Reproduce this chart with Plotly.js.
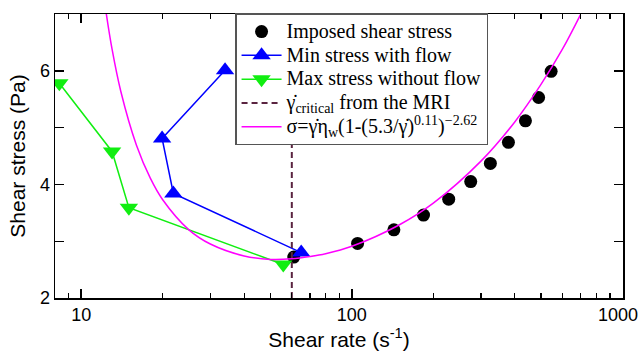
<!DOCTYPE html>
<html>
<head>
<meta charset="utf-8">
<script src="https://cdn.plot.ly/plotly-3.0.1.min.js"></script>
<style>html,body{margin:0;padding:0;background:#fff;}#chart{width:640px;height:356px;}</style>
</head>
<body>
<div id="chart"></div>
<script>
// Imposed shear stress (black circles)
const imposedRate = [61, 105, 143, 184, 228, 275, 325, 379, 438, 490, 545];
const imposedStress = [2.72, 2.96, 3.2, 3.46, 3.74, 4.05, 4.37, 4.74, 5.12, 5.53, 5.99];
// Min stress with flow (blue up-triangles)
const minRate = [34, 19.9, 21.9, 65];
const minStress = [6.01, 4.81, 3.84, 2.8];
// Max stress without flow (green down-triangles)
const maxRate = [8.3, 13.0, 15.0, 55.8];
const maxStress = [5.78, 4.58, 3.59, 2.59];
// Critical shear rate from MRI
const criticalRate = 60;
// Fit curve
const fitRate = [12.3, 13, 14, 16, 18, 20, 25, 30, 40, 50, 60, 70, 80, 100, 150, 200, 300, 400, 500, 600, 700];
const fitStress = [7.09, 6.38, 5.64, 4.69, 4.11, 3.73, 3.2, 2.95, 2.74, 2.68, 2.69, 2.73, 2.78, 2.91, 3.29, 3.67, 4.41, 5.1, 5.76, 6.38, 6.99];
// Ticks
const xMajor = [10, 100, 1000];
const xTickText = ['10', '100', '1000\u2002'];
const xMinor = [9, 20, 30, 40, 50, 60, 70, 80, 90, 200, 300, 400, 500, 600, 700, 800, 900];
const yMajor = [2, 4, 6];
const yMinor = [3, 5];
// Legend labels
const legendNames = [
  'Imposed shear stress',
  'Min stress with flow',
  'Max stress without flow',
  'γ̇<sub>critical</sub> from the MRI',
  'σ=γ̇η<sub>w</sub>(1-(5.3/γ̇)<sup>0.11</sup>)<sup>−2.62</sup>'
];
const big = s => '<span style="font-size:20px">' + s + '</span>';

const sans = 'Liberation Sans, Arial, sans-serif';
const traces = [
  {x: imposedRate, y: imposedStress, mode: 'markers', name: big(legendNames[0]),
   marker: {color: '#000', size: 13, symbol: 'circle'}},
  {x: minRate, y: minStress, mode: 'lines+markers', name: big(legendNames[1]),
   line: {color: '#0000ff', width: 1.5}, marker: {color: '#0000ff', size: 16, symbol: 'triangle-up'}},
  {x: maxRate, y: maxStress, mode: 'lines+markers', name: big(legendNames[2]),
   line: {color: '#11ee11', width: 1.5}, marker: {color: '#11ee11', size: 16, symbol: 'triangle-down'}},
  {x: [criticalRate, criticalRate], y: [2, 7], mode: 'lines', name: big(legendNames[3]),
   line: {color: '#5a2440', width: 2, dash: '6px,4px'}},
  {x: fitRate, y: fitStress, mode: 'lines', name: big(legendNames[4]),
   line: {color: '#ff00ff', width: 1.5, shape: 'spline'}}
];

const layout = {
  width: 640, height: 356,
  margin: {l: 55, r: 17, t: 14, b: 58},
  paper_bgcolor: '#fff', plot_bgcolor: '#fff',
  showlegend: true,
  legend: {x: 0.317, y: 1.003, xanchor: 'left', yanchor: 'top', bgcolor: '#fff',
    bordercolor: '#555', borderwidth: 1.5,
    font: {family: 'Liberation Serif, Times New Roman, serif', size: 16, color: '#000'},
    tracegroupgap: 0, itemwidth: 40},
  xaxis: {type: 'log', range: [Math.log10(8), 3.002], showgrid: false, zeroline: false,
    tickmode: 'array', tickvals: xMajor, ticktext: xTickText,
    ticks: 'inside', ticklen: 9, tickwidth: 1.5, tickcolor: '#000', ticklabeloverflow: 'allow',
    showline: true, linecolor: '#000', linewidth: 1.5, mirror: 'allticks',
    minor: {tickmode: 'array', tickvals: xMinor, ticks: 'inside', ticklen: 5, tickwidth: 1.2, tickcolor: '#000'},
    tickfont: {family: sans, size: 18, color: '#000'},
    title: {text: 'Shear rate (s<sup>-1</sup>)', standoff: 8,
      font: {family: sans, size: 21, color: '#000'}}},
  yaxis: {range: [2, 7], showgrid: false, zeroline: false,
    tickmode: 'array', tickvals: yMajor, ticktext: yMajor.map(String),
    ticks: 'inside', ticklen: 9, tickwidth: 1.5, tickcolor: '#000', ticklabeloverflow: 'allow',
    showline: true, linecolor: '#000', linewidth: 1.5, mirror: 'allticks',
    minor: {tickmode: 'array', tickvals: yMinor, ticks: 'inside', ticklen: 9, tickwidth: 1.2, tickcolor: '#000'},
    tickfont: {family: sans, size: 18, color: '#000'},
    title: {text: 'Shear stress (Pa)', standoff: 8,
      font: {family: sans, size: 21, color: '#000'}}}
};

Plotly.newPlot('chart', traces, layout, {displayModeBar: false, staticPlot: true});
</script>
</body>
</html>
